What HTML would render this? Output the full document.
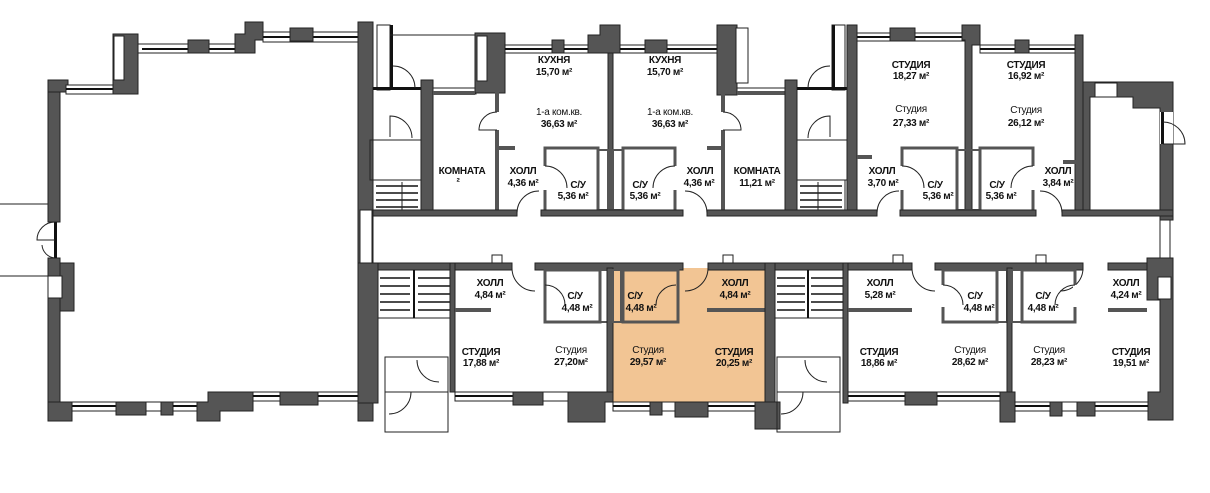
<!DOCTYPE html>
<html><head><meta charset="utf-8"><style>
html,body{margin:0;padding:0;background:#fff;width:1210px;height:493px;overflow:hidden}
svg{display:block}
.w{fill:#555;stroke:#222;stroke-width:1}
.p{fill:none;stroke:#555;stroke-width:4}
.t{fill:none;stroke:#222;stroke-width:1}
.win{fill:#fff;stroke:#222;stroke-width:1}
.d{fill:none;stroke:#222;stroke-width:1}
text{font-family:"Liberation Sans",sans-serif;font-size:10px;fill:#111;text-anchor:middle;letter-spacing:-0.3px}
.b{font-weight:bold}
</style></head><body>
<svg width="1210" height="493" viewBox="0 0 1210 493">
<!-- orange unit -->
<rect x="613" y="268" width="154" height="134" fill="#f2c594"/>
<!-- left big hall -->
<line x1="0" y1="204" x2="48" y2="204" class="t"/>
<line x1="0" y1="276" x2="48" y2="276" class="t"/>
<rect class="w" x="48" y="80" width="12" height="142"/>
<rect class="w" x="48" y="258" width="12" height="163"/>
<rect class="w" x="60" y="263" width="14" height="48"/>
<rect class="win" x="48" y="276" width="14" height="22"/>
<rect x="54" y="222" width="3" height="36" fill="#111"/>
<path class="d" d="M55,222 A18,18 0 0,0 37,240 L55,240 M55,258 A14,14 0 0,1 42,245"/>
<rect class="w" x="48" y="80" width="20" height="12"/>
<rect class="win" x="66" y="85" width="48" height="9"/><rect x="66" y="88" width="48" height="2" fill="#111"/>
<rect class="w" x="113" y="34" width="25" height="60"/><rect class="win" x="114" y="36" width="10" height="44"/>
<rect class="win" x="138" y="44" width="100" height="9"/><rect x="142" y="48" width="94" height="2" fill="#111"/>
<rect class="w" x="188" y="40" width="21" height="13"/>
<path class="w" d="M235,34 L245,34 L245,22 L263,22 L263,40 L255,40 L255,53 L235,53 Z"/>
<rect class="win" x="263" y="32" width="96" height="10"/><rect x="263" y="36" width="96" height="2" fill="#111"/>
<rect class="w" x="290" y="28" width="23" height="13"/>
<rect class="w" x="358" y="22" width="15" height="398"/>
<rect class="win" x="360" y="210" width="12" height="55"/>
<rect class="win" x="70" y="402" width="47" height="9"/><rect x="70" y="405" width="47" height="2" fill="#111"/>
<rect class="w" x="116" y="402" width="30" height="13"/>
<rect class="win" x="146" y="402" width="15" height="9"/>
<rect class="w" x="161" y="402" width="12" height="13"/>
<rect class="win" x="173" y="402" width="26" height="9"/><rect x="173" y="405" width="26" height="2" fill="#111"/>
<path class="w" d="M208,392 L253,392 L253,411 L220,411 L220,421 L197,421 L197,402 L208,402 Z"/>
<rect class="win" x="253" y="392" width="27" height="9"/><rect x="253" y="395" width="27" height="2" fill="#111"/>
<rect class="w" x="280" y="392" width="38" height="13"/>
<rect class="win" x="318" y="392" width="42" height="9"/><rect x="318" y="395" width="42" height="2" fill="#111"/>
<rect class="w" x="48" y="402" width="24" height="19"/>
<rect class="w" x="358" y="392" width="15" height="29"/>

<!-- middle top -->
<rect class="win" x="377" y="25" width="13" height="65"/><rect x="390" y="25" width="3" height="65" fill="#111"/>
<line x1="390" y1="35" x2="500" y2="35" class="t"/>
<rect x="373" y="87" width="48" height="3" fill="#111"/>
<path class="d" d="M393,66 A22,22 0 0,1 415,88 M390,137 L390,116 A22,22 0 0,1 412,138"/>
<rect class="t" x="370" y="140" width="52" height="40"/>
<rect class="t" x="373" y="180" width="48" height="33"/>
<g stroke="#111" stroke-width="1.5"><line x1="376" y1="186" x2="418" y2="186"/><line x1="376" y1="193" x2="418" y2="193"/><line x1="376" y1="200" x2="418" y2="200"/><line x1="376" y1="207" x2="418" y2="207"/></g>
<line x1="402" y1="182" x2="402" y2="212" class="t"/>
<rect class="w" x="421" y="80" width="12" height="133"/>
<rect class="win" x="433" y="88" width="43" height="6"/>
<rect class="w" x="475" y="33" width="30" height="60"/><rect class="win" x="477" y="36" width="10" height="45"/>
<rect class="win" x="505" y="45" width="47" height="8"/><rect x="505" y="48" width="47" height="2" fill="#111"/>
<rect class="w" x="552" y="40" width="12" height="13"/>
<rect class="win" x="564" y="45" width="24" height="8"/><rect x="564" y="48" width="24" height="2" fill="#111"/>
<path class="w" d="M588,35 L600,35 L600,25 L620,25 L620,53 L588,53 Z"/>
<rect class="win" x="620" y="45" width="25" height="8"/><rect x="620" y="48" width="25" height="2" fill="#111"/>
<rect class="w" x="645" y="40" width="22" height="13"/>
<rect class="win" x="667" y="45" width="50" height="8"/><rect x="667" y="48" width="50" height="2" fill="#111"/>
<rect class="w" x="717" y="25" width="20" height="70"/><rect class="win" x="736" y="28" width="12" height="55"/>
<rect class="win" x="737" y="88" width="48" height="6"/>
<rect class="w" x="608" y="53" width="5" height="160"/>
<path class="p" d="M497,53 L497,112 M497,130 L497,213 M497,148 L515,148"/>
<path class="p" d="M723,93 L723,112 M723,130 L723,213 M707,148 L723,148"/>
<path class="p" d="M433,93 L475,93"/>
<path class="p" d="M737,93 L785,93"/>
<path class="d" d="M497,112 A18,18 0 0,0 479,130 L497,130 M723,112 A18,18 0 0,1 741,130 L723,130"/>
<rect class="t" x="545" y="148" width="53" height="63" style="stroke:#555;stroke-width:3"/>
<rect class="t" x="598" y="150" width="10" height="60" style="stroke:#555;stroke-width:2"/>
<rect class="t" x="623" y="148" width="52" height="63" style="stroke:#555;stroke-width:3"/>
<rect class="t" x="613" y="150" width="10" height="60" style="stroke:#555;stroke-width:2"/>
<rect x="543" y="166" width="5" height="24" fill="#fff"/><rect x="673" y="166" width="5" height="24" fill="#fff"/>
<path class="d" d="M545,166 A22,22 0 0,1 567,188 M675,166 A22,22 0 0,0 653,188"/>
<!-- stair 2 -->
<rect class="w" x="785" y="80" width="12" height="133"/>
<rect class="win" x="832" y="25" width="13" height="65"/><rect x="832" y="25" width="3" height="65" fill="#111"/>
<rect x="797" y="87" width="50" height="3" fill="#111"/>
<path class="d" d="M830,66 A22,22 0 0,0 808,88 M830,137 L830,116 A22,22 0 0,0 808,138"/>
<rect class="t" x="797" y="140" width="50" height="40"/>
<rect class="t" x="797" y="180" width="48" height="33"/>
<g stroke="#111" stroke-width="1.5"><line x1="800" y1="186" x2="842" y2="186"/><line x1="800" y1="193" x2="842" y2="193"/><line x1="800" y1="200" x2="842" y2="200"/><line x1="800" y1="207" x2="842" y2="207"/></g>
<line x1="818" y1="182" x2="818" y2="212" class="t"/>
<rect class="w" x="847" y="25" width="10" height="188"/>
<!-- right top -->
<rect class="win" x="857" y="33" width="108" height="8"/><rect x="857" y="36" width="108" height="2" fill="#111"/>
<rect class="w" x="890" y="28" width="25" height="13"/>
<path class="w" d="M962,25 L980,25 L980,45 L972,45 L972,213 L965,213 L965,40 L962,40 Z"/>
<rect class="win" x="980" y="45" width="97" height="8"/><rect x="980" y="48" width="97" height="2" fill="#111"/>
<rect class="w" x="1015" y="40" width="14" height="13"/>
<rect class="w" x="1075" y="35" width="8" height="178"/>
<path class="p" d="M857,157 L872,157 M1063,162 L1077,162"/>
<rect class="t" x="902" y="148" width="55" height="63" style="stroke:#555;stroke-width:3"/>
<rect class="t" x="957" y="150" width="10" height="60" style="stroke:#555;stroke-width:2"/>
<rect class="t" x="980" y="148" width="53" height="63" style="stroke:#555;stroke-width:3"/>
<rect class="t" x="970" y="150" width="10" height="60" style="stroke:#555;stroke-width:2"/>
<rect x="900" y="166" width="5" height="24" fill="#fff"/><rect x="1031" y="166" width="5" height="24" fill="#fff"/>
<path class="d" d="M902,166 A22,22 0 0,1 924,188 M1033,166 A22,22 0 0,0 1011,188"/>
<path class="w" d="M1083,82 L1173,82 L1173,220 L1160,220 L1160,108 L1133,108 L1133,97 L1090,97 L1090,210 L1083,210 Z"/>
<rect class="win" x="1095" y="83" width="22" height="14"/>
<rect x="1160" y="112" width="13" height="32" fill="#fff"/><rect x="1161" y="112" width="3" height="32" fill="#111"/>
<path class="d" d="M1163,122 A22,22 0 0,1 1185,144 L1163,144"/>
<!-- corridor walls -->
<rect class="w" x="373" y="210" width="144" height="6"/>
<rect class="w" x="541" y="210" width="142" height="6"/>
<rect class="w" x="707" y="210" width="170" height="6"/>
<rect class="w" x="900" y="210" width="136" height="6"/>
<rect class="w" x="1062" y="210" width="111" height="6"/>
<path class="d" d="M517,213 A22,22 0 0,1 539,191 M707,213 A22,22 0 0,0 685,191 M877,213 A22,22 0 0,1 899,191 M1062,213 A22,22 0 0,0 1040,191"/>
<rect class="win" x="1160" y="220" width="10" height="38"/>
<rect class="w" x="373" y="263" width="139" height="7"/>
<rect class="w" x="535" y="263" width="148" height="7"/>
<rect class="w" x="708" y="263" width="204" height="7"/>
<rect class="w" x="935" y="263" width="148" height="7"/>
<rect class="w" x="1108" y="263" width="65" height="7"/>
<rect class="win" x="492" y="255" width="10" height="8"/><rect class="win" x="723" y="255" width="10" height="8"/>
<rect class="win" x="893" y="255" width="10" height="8"/><rect class="win" x="1036" y="255" width="10" height="8"/>
<path class="d" d="M512,268 A23,23 0 0,0 535,291 M708,268 A23,23 0 0,1 685,291 M912,268 A23,23 0 0,0 935,291 M1083,268 A23,23 0 0,1 1060,291"/>
<!-- bottom left stair -->
<rect class="w" x="358" y="263" width="20" height="140"/>
<rect class="t" x="378" y="270" width="72" height="48"/>
<g stroke="#111" stroke-width="1.5"><line x1="380" y1="278" x2="410" y2="278"/><line x1="380" y1="286" x2="410" y2="286"/><line x1="380" y1="294" x2="410" y2="294"/><line x1="380" y1="302" x2="410" y2="302"/><line x1="380" y1="310" x2="410" y2="310"/>
<line x1="418" y1="278" x2="450" y2="278"/><line x1="418" y1="286" x2="450" y2="286"/><line x1="418" y1="294" x2="450" y2="294"/><line x1="418" y1="302" x2="450" y2="302"/><line x1="418" y1="310" x2="450" y2="310"/></g>
<line x1="414" y1="270" x2="414" y2="318" stroke="#111" stroke-width="2"/>
<rect class="t" x="385" y="357" width="63" height="35"/>
<rect class="t" x="385" y="392" width="63" height="40"/>
<path class="d" d="M417,360 A22,22 0 0,0 439,382 M411,392 A22,22 0 0,1 389,414"/>
<rect class="w" x="450" y="263" width="5" height="129"/>
<!-- bottom unit 1 -->
<path class="p" d="M455,310 L491,310"/>
<rect class="t" x="545" y="270" width="55" height="52" style="stroke:#555;stroke-width:3"/>
<rect class="t" x="600" y="270" width="8" height="52" style="stroke:#555;stroke-width:2"/>
<rect class="w" x="607" y="268" width="6" height="134"/>
<rect class="t" x="623" y="270" width="55" height="52" style="stroke:#555;stroke-width:3"/>
<rect class="t" x="613" y="270" width="8" height="52" style="stroke:#555;stroke-width:2"/>
<path class="p" d="M707,310 L767,310"/>
<rect class="w" x="765" y="263" width="10" height="140"/>
<rect class="win" x="455" y="392" width="58" height="9"/><rect x="455" y="395" width="58" height="2" fill="#111"/>
<rect class="w" x="513" y="392" width="30" height="13"/>
<rect class="win" x="543" y="392" width="27" height="9"/>
<path class="w" d="M568,392 L613,392 L613,402 L605,402 L605,422 L568,422 Z"/>
<rect class="win" x="613" y="402" width="37" height="9"/><rect x="613" y="405" width="37" height="2" fill="#111"/>
<rect class="w" x="650" y="402" width="12" height="13"/>
<rect class="win" x="662" y="402" width="13" height="9"/>
<rect class="w" x="675" y="402" width="33" height="15"/>
<rect class="win" x="708" y="402" width="47" height="9"/><rect x="708" y="405" width="47" height="2" fill="#111"/>
<rect class="w" x="755" y="402" width="25" height="27"/>
<!-- stair 2 bottom -->
<rect class="t" x="775" y="270" width="70" height="48"/>
<g stroke="#111" stroke-width="1.5"><line x1="777" y1="278" x2="805" y2="278"/><line x1="777" y1="286" x2="805" y2="286"/><line x1="777" y1="294" x2="805" y2="294"/><line x1="777" y1="302" x2="805" y2="302"/><line x1="777" y1="310" x2="805" y2="310"/>
<line x1="811" y1="278" x2="843" y2="278"/><line x1="811" y1="286" x2="843" y2="286"/><line x1="811" y1="294" x2="843" y2="294"/><line x1="811" y1="302" x2="843" y2="302"/><line x1="811" y1="310" x2="843" y2="310"/></g>
<line x1="808" y1="270" x2="808" y2="318" stroke="#111" stroke-width="2"/>
<rect class="t" x="777" y="357" width="63" height="35"/>
<rect class="t" x="777" y="392" width="63" height="40"/>
<path class="d" d="M805,360 A22,22 0 0,0 827,382 M803,392 A22,22 0 0,1 781,414"/>
<rect class="w" x="843" y="263" width="5" height="140"/>
<!-- bottom right units -->
<path class="p" d="M848,310 L912,310 M1108,310 L1147,310"/>
<rect class="t" x="943" y="270" width="54" height="52" style="stroke:#555;stroke-width:3"/>
<rect class="t" x="997" y="270" width="10" height="52" style="stroke:#555;stroke-width:2"/>
<rect class="w" x="1007" y="268" width="5" height="134"/>
<rect class="t" x="1012" y="270" width="10" height="52" style="stroke:#555;stroke-width:2"/>
<rect class="t" x="1022" y="270" width="53" height="52" style="stroke:#555;stroke-width:3"/>
<rect x="941" y="285" width="5" height="22" fill="#fff"/><rect x="1073" y="285" width="5" height="22" fill="#fff"/>
<path class="d" d="M943,285 A20,20 0 0,1 963,305 M1075,285 A20,20 0 0,0 1055,305 M545,285 A20,20 0 0,1 565,305 M676,285 A20,20 0 0,0 656,305"/>
<path class="w" d="M1147,258 L1173,258 L1173,420 L1148,420 L1148,392 L1160,392 L1160,300 L1147,300 Z"/>
<rect class="win" x="1158" y="277" width="13" height="22"/>
<rect class="win" x="848" y="392" width="57" height="9"/><rect x="848" y="395" width="57" height="2" fill="#111"/>
<rect class="w" x="905" y="392" width="32" height="13"/>
<rect class="win" x="937" y="392" width="63" height="9"/><rect x="937" y="395" width="63" height="2" fill="#111"/>
<rect class="w" x="1000" y="392" width="15" height="30"/>
<rect class="win" x="1015" y="402" width="35" height="9"/><rect x="1015" y="405" width="35" height="2" fill="#111"/>
<rect class="w" x="1050" y="402" width="12" height="14"/>
<rect class="win" x="1062" y="402" width="15" height="9"/>
<rect class="w" x="1077" y="402" width="18" height="14"/>
<rect class="win" x="1095" y="402" width="53" height="9"/><rect x="1095" y="405" width="53" height="2" fill="#111"/>

<!-- labels -->
<g class="b">
<text x="554" y="63">КУХНЯ</text><text x="554" y="75">15,70 м²</text>
<text x="665" y="63">КУХНЯ</text><text x="665" y="75">15,70 м²</text>
<text x="462" y="174">КОМНАТА</text><text x="458" y="185">²</text>
<text x="523" y="174">ХОЛЛ</text><text x="523" y="186">4,36 м²</text>
<text x="578" y="188">С/У</text><text x="573" y="199">5,36 м²</text>
<text x="640" y="188">С/У</text><text x="645" y="199">5,36 м²</text>
<text x="700" y="174">ХОЛЛ</text><text x="699" y="186">4,36 м²</text>
<text x="757" y="174">КОМНАТА</text><text x="757" y="186">11,21 м²</text>
<text x="911" y="68">СТУДИЯ</text><text x="911" y="79">18,27 м²</text>
<text x="1026" y="68">СТУДИЯ</text><text x="1026" y="79">16,92 м²</text>
<text x="882" y="174">ХОЛЛ</text><text x="883" y="186">3,70 м²</text>
<text x="935" y="188">С/У</text><text x="938" y="199">5,36 м²</text>
<text x="997" y="188">С/У</text><text x="1001" y="199">5,36 м²</text>
<text x="1058" y="174">ХОЛЛ</text><text x="1058" y="186">3,84 м²</text>
<text x="490" y="286">ХОЛЛ</text><text x="490" y="298">4,84 м²</text>
<text x="575" y="299">С/У</text><text x="577" y="311">4,48 м²</text>
<text x="635" y="299">С/У</text><text x="641" y="311">4,48 м²</text>
<text x="735" y="286">ХОЛЛ</text><text x="735" y="298">4,84 м²</text>
<text x="481" y="355">СТУДИЯ</text><text x="481" y="366">17,88 м²</text>
<text x="734" y="355">СТУДИЯ</text><text x="734" y="366">20,25 м²</text>
<text x="880" y="286">ХОЛЛ</text><text x="880" y="298">5,28 м²</text>
<text x="975" y="299">С/У</text><text x="979" y="311">4,48 м²</text>
<text x="1043" y="299">С/У</text><text x="1043" y="311">4,48 м²</text>
<text x="1126" y="286">ХОЛЛ</text><text x="1126" y="298">4,24 м²</text>
<text x="879" y="355">СТУДИЯ</text><text x="879" y="366">18,86 м²</text>
<text x="1131" y="355">СТУДИЯ</text><text x="1131" y="366">19,51 м²</text>
</g>
<text x="559" y="115">1-а ком.кв.</text><text x="559" y="127" class="b">36,63 м²</text>
<text x="670" y="115">1-а ком.кв.</text><text x="670" y="127" class="b">36,63 м²</text>
<text x="911" y="112">Студия</text><text x="911" y="126" class="b">27,33 м²</text>
<text x="1026" y="113">Студия</text><text x="1026" y="126" class="b">26,12 м²</text>
<text x="571" y="353">Студия</text><text x="571" y="365" class="b">27,20м²</text>
<text x="648" y="353">Студия</text><text x="648" y="365" class="b">29,57 м²</text>
<text x="970" y="353">Студия</text><text x="970" y="365" class="b">28,62 м²</text>
<text x="1049" y="353">Студия</text><text x="1049" y="365" class="b">28,23 м²</text>
</svg>
</body></html>
